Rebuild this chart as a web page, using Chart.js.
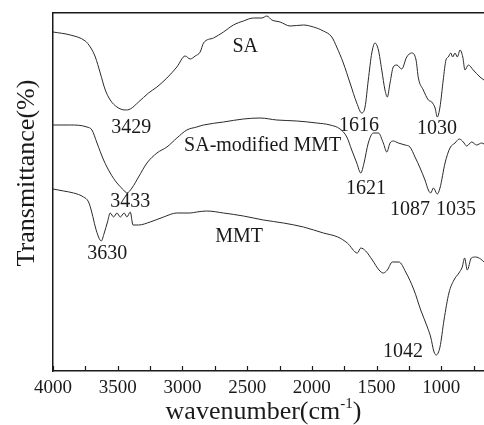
<!DOCTYPE html>
<html>
<head>
<meta charset="utf-8">
<script src="https://cdn.jsdelivr.net/npm/chart.js@4/dist/chart.umd.min.js"></script>
<style>
  html, body { margin: 0; padding: 0; background: #fff; }
  #wrap { width: 484px; height: 425px; }
</style>
</head>
<body>
<div id="wrap"><canvas id="ftir"></canvas></div>
<script>
// FTIR spectra, transmittance in arbitrary units (curves offset vertically)
const saWn = [4000, 3866, 3751, 3712, 3673, 3635, 3596, 3558, 3506, 3442, 3403, 3339, 3262, 3197, 3120, 3043, 2979, 2940, 2901, 2863, 2837, 2760, 2683, 2606, 2529, 2451, 2387, 2348, 2309, 2245, 2168, 2065, 1988, 1911, 1846, 1808, 1757, 1705, 1653, 1615, 1589, 1564, 1537, 1512, 1486, 1460, 1435, 1417, 1396, 1371, 1344, 1306, 1267, 1229, 1195, 1177, 1139, 1100, 1074, 1048, 1031, 1010, 985, 964, 946, 927, 912, 894, 876, 855, 834, 817, 791, 753, 701, 670];
const saT = [339, 336, 330, 324, 314, 298, 281, 271, 264, 261, 262, 269, 278, 284, 293, 304, 315, 312, 315, 319, 328, 333, 339, 346, 350, 353, 353, 355, 351, 349, 345, 346, 344, 340, 334, 324, 308, 288, 268, 258, 264, 291, 318, 328, 321, 301, 281, 274, 288, 304, 306, 302, 314, 318, 311, 293, 281, 271, 269, 263, 254, 264, 291, 311, 314, 318, 314, 318, 314, 321, 314, 301, 306, 301, 294, 291];

const samWn = [4000, 3866, 3738, 3699, 3660, 3609, 3558, 3506, 3455, 3429, 3390, 3339, 3274, 3197, 3120, 3043, 2966, 2889, 2837, 2683, 2529, 2400, 2271, 2116, 1962, 1859, 1782, 1730, 1692, 1653, 1622, 1597, 1564, 1525, 1486, 1448, 1421, 1396, 1371, 1332, 1280, 1242, 1203, 1164, 1126, 1100, 1082, 1061, 1031, 1010, 971, 933, 894, 861, 830, 804, 765, 727, 688, 670];
const samT = [246, 246, 244, 241, 228, 211, 198, 188, 181, 178, 183, 194, 208, 218, 224, 233, 241, 244, 246, 249, 252, 253, 251, 250, 248, 246, 242, 234, 221, 208, 198, 208, 228, 238, 238, 228, 219, 228, 230, 228, 226, 224, 214, 203, 191, 181, 178, 183, 177, 183, 208, 223, 228, 232, 229, 225, 229, 226, 228, 227];

const mmtWn = [4000, 3918, 3841, 3764, 3725, 3699, 3673, 3648, 3627, 3604, 3579, 3558, 3532, 3506, 3480, 3450, 3429, 3403, 3382, 3339, 3249, 3146, 3043, 2940, 2889, 2811, 2683, 2529, 2374, 2220, 2065, 1911, 1800, 1726, 1648, 1622, 1584, 1533, 1481, 1448, 1417, 1378, 1327, 1275, 1211, 1159, 1108, 1082, 1056, 1039, 1010, 979, 941, 902, 864, 838, 820, 799, 768, 735, 696, 670];
const mmtT = [182, 180, 178, 174, 169, 158, 144, 134, 130, 138, 149, 158, 154, 158, 154, 158, 154, 159, 146, 146, 149, 154, 158, 158, 159, 160, 158, 155, 151, 148, 144, 138, 134, 128, 118, 123, 120, 111, 101, 98, 101, 109, 109, 99, 81, 61, 44, 34, 19, 16, 24, 51, 78, 91, 98, 104, 113, 101, 113, 114, 112, 109];

// peak / curve labels placed in data coordinates (wavenumber, transmittance)
const labelText = ["SA", "3429", "SA-modified MMT", "3433", "3630", "MMT", "1616", "1030", "1621", "1087", "1035", "1042"];
const labelWn = [2515, 3395, 2380, 3403, 3581, 2562, 1635, 1033, 1581, 1242, 887, 1296];
const labelT = [324, 243, 225, 169, 117, 134, 245, 242, 182, 161, 161, 19];

const serif = "'Liberation Serif', 'Times New Roman', serif";
const ink = "#1a1a1a";

const toPoints = (wn, t) => wn.map((x, i) => ({ x, y: t[i] }));
const line = (data) => ({ data, borderColor: "#2a2a2a", borderWidth: 1, pointRadius: 0, cubicInterpolationMode: "monotone", fill: false });

const textLayer = {
  id: "textLayer",
  afterDraw(chart) {
    const { ctx, chartArea: a, scales: { x, y } } = chart;
    ctx.save();

    // inward tick marks on the bottom axis
    ctx.strokeStyle = ink;
    ctx.lineWidth = 1.2;
    ctx.beginPath();
    x.ticks.forEach((t) => {
      const px = Math.round(x.getPixelForValue(t.value)) + 0.5;
      ctx.moveTo(px, a.bottom);
      ctx.lineTo(px, a.bottom - 5);
    });
    ctx.stroke();

    ctx.fillStyle = ink;
    ctx.textAlign = "center";
    ctx.textBaseline = "middle";
    ctx.font = `20px ${serif}`;
    labelText.forEach((t, i) => ctx.fillText(t, x.getPixelForValue(labelWn[i]), y.getPixelForValue(labelT[i])));

    // y title
    ctx.save();
    ctx.translate(27, (a.top + a.bottom) / 2 - 19);
    ctx.rotate(-Math.PI / 2);
    ctx.font = `26px ${serif}`;
    ctx.fillText("Transmittance(%)", 0, 0);
    ctx.restore();

    // x title with superscript
    ctx.textAlign = "left";
    ctx.textBaseline = "alphabetic";
    const main = "wavenumber(cm";
    ctx.font = `26px ${serif}`;
    const w1 = ctx.measureText(main).width;
    ctx.font = `15px ${serif}`;
    const w2 = ctx.measureText("-1").width;
    ctx.font = `26px ${serif}`;
    const w3 = ctx.measureText(")").width;
    const cx = (a.left + a.right) / 2 - 5;
    const sx = cx - (w1 + w2 + w3) / 2;
    const base = 419;
    ctx.fillText(main, sx, base);
    ctx.font = `15px ${serif}`;
    ctx.fillText("-1", sx + w1, base - 11);
    ctx.font = `26px ${serif}`;
    ctx.fillText(")", sx + w1 + w2, base);
    ctx.restore();
  }
};

new Chart(document.getElementById("ftir"), {
  type: "line",
  data: {
    datasets: [line(toPoints(saWn, saT)), line(toPoints(samWn, samT)), line(toPoints(mmtWn, mmtT))]
  },
  options: {
    responsive: true,
    maintainAspectRatio: false,
    animation: false,
    layout: { padding: 0 },
    plugins: { legend: { display: false }, tooltip: { enabled: false } },
    scales: {
      x: {
        type: "linear", position: "bottom", reverse: true, min: 670, max: 4000,
        ticks: {
          stepSize: 250, includeBounds: false, autoSkip: false, maxRotation: 0, padding: 6,
          color: ink, font: { family: serif, size: 19 },
          callback: (v) => (v % 500 === 0 ? String(v) : "")
        },
        grid: { display: false, drawTicks: false },
        border: { display: true, color: ink, width: 1.5 },
        afterFit: (s) => { s.height = 54; }
      },
      top: {
        type: "linear", position: "top", min: 670, max: 4000, reverse: true,
        ticks: { display: false },
        grid: { display: false, drawTicks: false },
        border: { display: true, color: ink, width: 1.5 },
        afterFit: (s) => { s.height = 13; }
      },
      y: {
        type: "linear", min: 0, max: 358,
        ticks: { display: false },
        grid: { display: false, drawTicks: false },
        border: { display: true, color: ink, width: 1.5 },
        afterFit: (s) => { s.width = 53; }
      }
    }
  },
  plugins: [textLayer]
});
</script>
</body>
</html>
